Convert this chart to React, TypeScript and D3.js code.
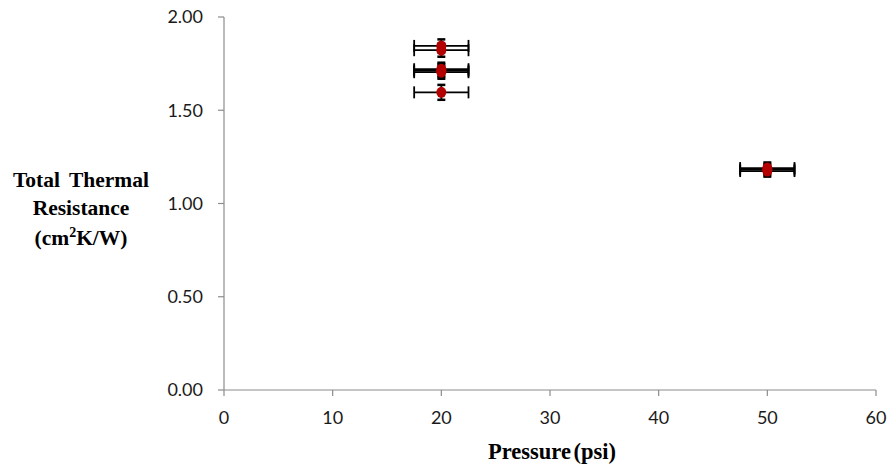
import React from "react";
import * as d3 from "d3";

// Measured samples: pressure (psi), resistance (cm²K/W) and their uncertainties
const pressure = [20, 20, 20, 20, 20, 20, 50, 50, 50];
const resistance = [1.845, 1.822, 1.72, 1.712, 1.704, 1.596, 1.19, 1.182, 1.174];
const pressureErr = [2.5, 2.5, 2.5, 2.5, 2.5, 2.5, 2.5, 2.5, 2.5];
const resistanceErr = [0.035, 0.035, 0.035, 0.035, 0.035, 0.04, 0.03, 0.03, 0.03];

const xTicks = [0, 10, 20, 30, 40, 50, 60];
const yTicks = [0, 0.5, 1.0, 1.5, 2.0];

const W = 894;
const H = 468;
const margin = { left: 224, right: 18, top: 17, bottom: 78 };

export default function App() {
  const x = d3.scaleLinear().domain([0, 60]).range([margin.left, W - margin.right]);
  const y = d3.scaleLinear().domain([0, 2]).range([H - margin.bottom, margin.top]);
  const axisColor = "#8c8c8c";
  const tickFont = "Lato, 'Open Sans', sans-serif";
  const titleFont = "'Liberation Serif', 'Times New Roman', serif";
  const cap = 4;

  const points = pressure.map((p, i) => ({
    x: p,
    y: resistance[i],
    ex: pressureErr[i],
    ey: resistanceErr[i],
  }));

  return (
    <svg width={W} height={H} style={{ position: "absolute", left: 0, top: 0, background: "#fff" }}>
      {/* axes */}
      <line x1={x(0)} x2={x(0)} y1={y(2)} y2={y(0)} stroke={axisColor} strokeWidth={1.2} />
      <line x1={x(0)} x2={x(60)} y1={y(0)} y2={y(0)} stroke={axisColor} strokeWidth={1.2} />
      {yTicks.map((t) => (
        <g key={"y" + t}>
          <line x1={x(0) - 6} x2={x(0)} y1={y(t)} y2={y(t)} stroke={axisColor} strokeWidth={1.2} />
          <text
            x={x(0) - 21}
            y={y(t)}
            dy="0.35em"
            textAnchor="end"
            fontFamily={tickFont}
            fontSize={18}
            fill="#1a1a1a"
          >
            {t.toFixed(2)}
          </text>
        </g>
      ))}
      {xTicks.map((t) => (
        <g key={"x" + t}>
          <line x1={x(t)} x2={x(t)} y1={y(0)} y2={y(0) + 6} stroke={axisColor} strokeWidth={1.2} />
          <text
            x={x(t)}
            y={y(0) + 34}
            textAnchor="middle"
            fontFamily={tickFont}
            fontSize={18}
            fill="#1a1a1a"
          >
            {t}
          </text>
        </g>
      ))}

      {/* error bars */}
      {points.map((d, i) => (
        <g key={"e" + i} stroke="#000" strokeWidth={1.8}>
          <line x1={x(d.x - d.ex)} x2={x(d.x + d.ex)} y1={y(d.y)} y2={y(d.y)} />
          <line x1={x(d.x - d.ex)} x2={x(d.x - d.ex)} y1={y(d.y) - 6} y2={y(d.y) + 6} />
          <line x1={x(d.x + d.ex)} x2={x(d.x + d.ex)} y1={y(d.y) - 6} y2={y(d.y) + 6} />
          <line x1={x(d.x)} x2={x(d.x)} y1={y(d.y + d.ey)} y2={y(d.y - d.ey)} />
          <line x1={x(d.x) - cap} x2={x(d.x) + cap} y1={y(d.y + d.ey)} y2={y(d.y + d.ey)} strokeWidth={2.5} />
          <line x1={x(d.x) - cap} x2={x(d.x) + cap} y1={y(d.y - d.ey)} y2={y(d.y - d.ey)} strokeWidth={2.5} />
        </g>
      ))}
      {/* markers */}
      {points.map((d, i) => (
        <ellipse key={"p" + i} cx={x(d.x)} cy={y(d.y)} rx={5} ry={5.5} fill="#b30000" />
      ))}

      {/* titles */}
      <text
        x={552}
        y={459}
        textAnchor="middle"
        fontFamily={titleFont}
        fontWeight="bold"
        fontSize={22.5}
        wordSpacing={-3}
        fill="#000"
      >
        Pressure (psi)
      </text>
      <text fontFamily={titleFont} fontWeight="bold" fontSize={21.5} fill="#000" textAnchor="middle">
        <tspan x={81} y={187} wordSpacing={4}>Total Thermal</tspan>
        <tspan x={81} y={215}>Resistance</tspan>
        <tspan x={81} y={245}>
          (cm<tspan fontSize={14} dy={-8}>2</tspan>
          <tspan dy={8}>K/W)</tspan>
        </tspan>
      </text>
    </svg>
  );
}
